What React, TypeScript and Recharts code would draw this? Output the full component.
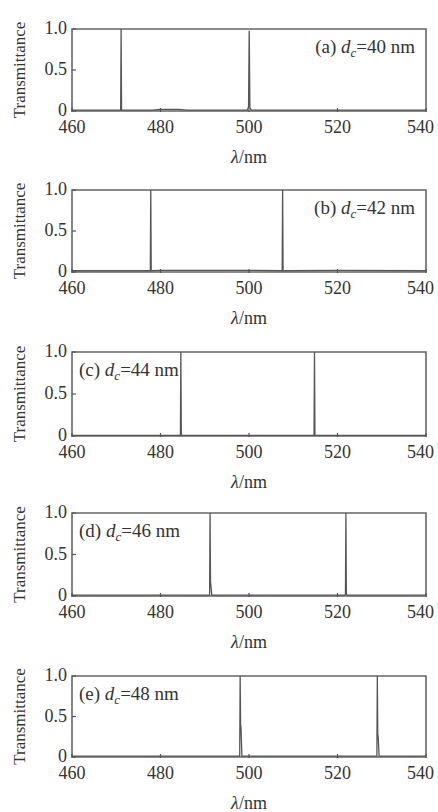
import React from 'react';
import { Label, Line, LineChart, ReferenceArea, XAxis, YAxis } from 'recharts';

// wavelength (nm) / transmittance samples
const waveA = [460, 471.0, 471.1, 471.2, 478, 480, 482, 484, 486, 499.6, 499.9, 500.05, 500.2, 500.5, 540];
const transA = [0.01, 0.01, 1.0, 0.01, 0.01, 0.02, 0.02, 0.02, 0.01, 0.01, 0.05, 0.98, 0.04, 0.01, 0.01];

const waveB = [460, 477.7, 477.8, 477.9, 480, 500, 507.5, 507.6, 507.7, 520, 540];
const transB = [0.015, 0.015, 1.0, 0.015, 0.02, 0.02, 0.015, 1.0, 0.015, 0.02, 0.015];

const waveC = [460, 484.5, 484.6, 484.7, 514.7, 514.8, 514.9, 540];
const transC = [0.008, 0.008, 1.0, 0.008, 0.008, 1.0, 0.008, 0.008];

const waveD = [460, 491.1, 491.2, 491.3, 491.4, 491.6, 521.6, 521.8, 521.9, 522.0, 522.2, 540];
const transD = [0.01, 0.01, 1.0, 0.18, 0.12, 0.01, 0.01, 0.02, 1.0, 0.02, 0.01, 0.01];

const waveE = [460, 497.9, 498.0, 498.1, 498.2, 498.4, 528.9, 529.0, 529.1, 529.2, 529.4, 540];
const transE = [0.01, 0.01, 1.0, 0.4, 0.35, 0.01, 0.01, 1.0, 0.28, 0.25, 0.01, 0.01];

const xTicks = [460, 480, 500, 520, 540];
const yTicks = [0, 0.5, 1.0];

const panelTags = ['(a)', '(b)', '(c)', '(d)', '(e)'];
const thickness = ['40', '42', '44', '46', '48'];

const toRows = (w: number[], t: number[]) => w.map((x, i) => ({ x, t: t[i] }));

const FONT = '"Liberation Serif", "Times New Roman", serif';
const INK = '#333';
const LINE = '#555';

const XTick = (props: any) => {
  const { x, y, payload } = props;
  const last = payload.value === 540;
  return (
    <g>
      <line x1={x} x2={x} y1={y - 8} y2={y - 12} stroke={LINE} strokeWidth={1.2} />
      <text
        x={last ? x + 8 : x}
        y={y}
        dy="0.71em"
        textAnchor={last ? 'end' : 'middle'}
        fontFamily={FONT}
        fontSize={18}
        fill={INK}
      >
        {payload.value}
      </text>
    </g>
  );
};

const YTick = (props: any) => {
  const { x, y, payload } = props;
  const v = payload.value;
  return (
    <g>
      <line x1={x + 5} x2={x + 9} y1={y} y2={y} stroke={LINE} strokeWidth={1.2} />
      <text x={x} y={y} dy="0.3em" textAnchor="end" fontFamily={FONT} fontSize={18} fill={INK}>
        {v === 0 ? '0' : v.toFixed(1)}
      </text>
    </g>
  );
};

type PanelProps = {
  idx: number;
  top: number;
  plotH: number;
  rows: { x: number; t: number }[];
  tagRight: boolean;
};

const Panel: React.FC<PanelProps> = ({ idx, top, plotH, rows, tagRight }) => {
  const axisH = 58;
  return (
    <div style={{ position: 'absolute', left: 0, top: top - 10 }}>
      <LineChart width={438} height={10 + plotH + axisH} data={rows} margin={{ top: 10, right: 12, bottom: 0, left: 0 }}>
        <XAxis
          dataKey="x"
          type="number"
          domain={[460, 540]}
          ticks={xTicks}
          height={axisH}
          tickSize={0}
          tickMargin={9}
          axisLine={false}
          tickLine={false}
          tick={<XTick />}
          interval={0}
        >
          <Label
            content={({ viewBox }: any) => (
              <text x={viewBox.x + viewBox.width / 2} y={viewBox.y + 52} textAnchor="middle" fontFamily={FONT} fontSize={18} fill={INK}>
                <tspan fontStyle="italic">λ</tspan>/nm
              </text>
            )}
          />
        </XAxis>
        <YAxis
          type="number"
          domain={[0, 1]}
          ticks={yTicks}
          width={72}
          tickSize={0}
          tickMargin={5}
          axisLine={false}
          tickLine={false}
          tick={<YTick />}
          interval={0}
        >
          <Label
            content={({ viewBox }: any) => {
              const cx = 19;
              const cy = viewBox.y + viewBox.height / 2;
              return (
                <text
                  x={cx}
                  y={cy}
                  transform={`rotate(-90 ${cx} ${cy})`}
                  dy="0.35em"
                  textAnchor="middle"
                  fontFamily={FONT}
                  fontSize={17}
                  fill={INK}
                >
                  Transmittance
                </text>
              );
            }}
          />
        </YAxis>
        <Line
          dataKey="t"
          type="linear"
          stroke={LINE}
          strokeWidth={1.3}
          dot={false}
          isAnimationActive={false}
        />
        <ReferenceArea
          x1={460}
          x2={540}
          y1={0}
          y2={1}
          fill="none"
          fillOpacity={0}
          stroke="#666"
          strokeWidth={1.6}
          ifOverflow="visible"
          label={({ viewBox }: any) => {
            const tx = tagRight ? viewBox.x + viewBox.width - 11 : viewBox.x + 7;
            const ty = viewBox.y + 24;
            return (
              <text x={tx} y={ty} textAnchor={tagRight ? 'end' : 'start'} fontFamily={FONT} fontSize={19} fill={INK}>
                {panelTags[idx]} <tspan fontStyle="italic">d</tspan>
                <tspan fontStyle="italic" fontSize={13} dy={4}>c</tspan>
                <tspan dy={-4}>={thickness[idx]} nm</tspan>
              </text>
            );
          }}
        />
      </LineChart>
    </div>
  );
};

export default function App() {
  return (
    <div style={{ position: 'absolute', left: 0, top: 0, width: 438, height: 812, background: '#fff' }}>
      <Panel idx={0} top={29} plotH={82} rows={toRows(waveA, transA)} tagRight />
      <Panel idx={1} top={190} plotH={82} rows={toRows(waveB, transB)} tagRight />
      <Panel idx={2} top={352} plotH={84} rows={toRows(waveC, transC)} tagRight={false} />
      <Panel idx={3} top={513} plotH={83} rows={toRows(waveD, transD)} tagRight={false} />
      <Panel idx={4} top={676} plotH={81} rows={toRows(waveE, transE)} tagRight={false} />
    </div>
  );
}
